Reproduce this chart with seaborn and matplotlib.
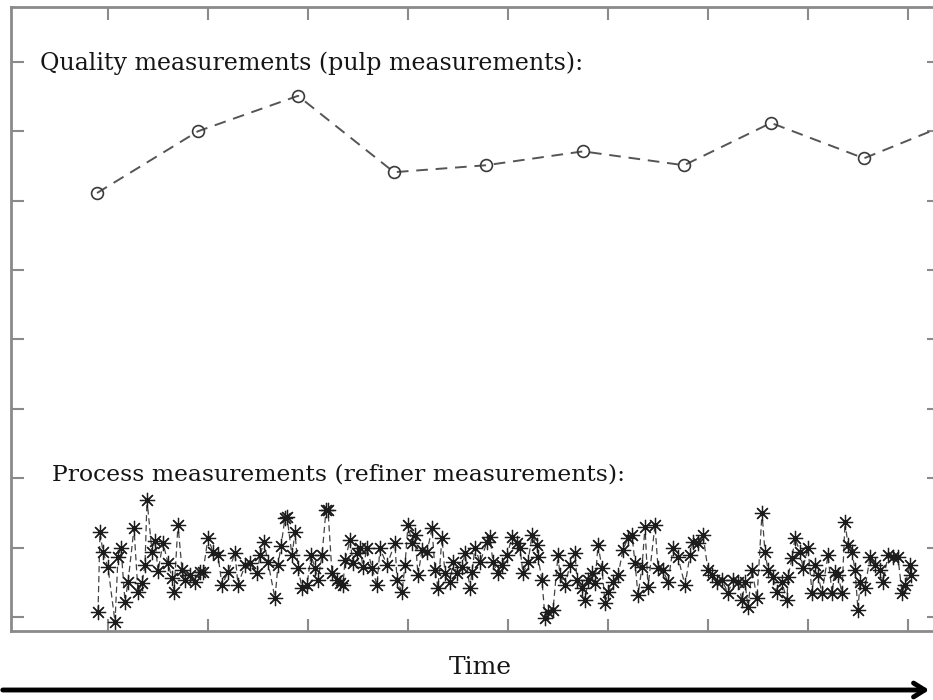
import numpy as np
import pandas as pd
import matplotlib
matplotlib.use("Agg")
import matplotlib.pyplot as plt
import seaborn as sns

# Quality (pulp) measurements: sparse lab samples
quality_time = [89, 190, 290, 386, 478, 575, 676, 763, 856, 950]
quality_value = [6.11, 7.00, 7.51, 6.41, 6.51, 6.71, 6.51, 7.12, 6.61, 7.16]

# Process (refiner) measurements: dense online samples
process_time = [
    90, 92, 95, 100, 107, 110, 113, 117, 120, 126, 130, 134, 137, 139, 144, 147,
    150, 155, 160, 164, 166, 170, 174, 177, 182, 187, 192, 195, 200, 205, 210, 214,
    220, 227, 230, 237, 242, 249, 252, 256, 260, 267, 270, 273, 277, 279, 284, 287,
    290, 294, 299, 303, 307, 310, 314, 318, 320, 324, 329, 332, 335, 337, 342, 345,
    349, 352, 355,
    359, 364, 369, 372, 379, 387, 389, 394, 397, 400, 404, 407, 410, 414, 419, 424,
    427, 430, 434, 437, 442, 445, 449, 454, 457, 462, 464, 467, 472, 479, 482, 485,
    490, 494,
    499, 504, 509, 512, 515, 520, 524, 529, 530, 534, 537, 540, 545, 550, 552, 557,
    562, 567, 569, 574, 577, 580, 584, 587, 590, 594, 597, 600, 605, 610, 615, 620,
    624, 627, 630, 634,
    637, 640, 647, 650, 655, 660, 665, 670, 677, 682, 685, 690, 695, 700, 704, 709,
    714, 720, 725, 730, 734, 737, 740, 744, 749, 754, 757, 760, 765, 769, 774,
    779, 780, 784, 787, 792, 795, 800, 804, 807, 810, 814, 820, 824, 827, 830, 834,
    837, 840, 844, 847, 850, 852, 857, 862, 867, 872, 875, 880, 885, 890, 894, 897,
    902, 903,
]
process_value = [
    0.07, 1.22, 0.94, 0.72, -0.07, 0.86, 1.00, 0.22, 0.50, 1.28, 0.36, 0.49, 0.75, 1.69, 0.94, 1.10,
    0.66, 1.07, 0.78, 0.56, 0.36, 1.33, 0.68, 0.53, 0.60, 0.50, 0.65, 0.65, 1.14, 0.94, 0.89, 0.46,
    0.65, 0.92, 0.46, 0.75, 0.78, 0.63, 0.89, 1.08, 0.79, 0.27, 0.75, 1.02, 1.43, 1.44, 0.89, 1.22,
    0.71, 0.42, 0.46, 0.89, 0.71, 0.53, 0.89, 1.54, 1.54, 0.63, 0.53, 0.49, 0.46, 0.82, 1.11, 0.78,
    0.92, 1.00, 0.72,
    0.99, 0.71, 0.46, 0.99, 0.75, 1.07, 0.53, 0.36, 0.75, 1.33, 1.07, 1.18, 0.60, 0.97, 0.94, 1.28,
    0.68, 0.42, 1.14, 0.63, 0.50, 0.79, 0.63, 0.72, 0.92, 0.42, 0.65, 1.00, 0.79, 1.08, 1.15, 0.79,
    0.63, 0.75,
    0.89, 1.15, 1.07, 0.99, 0.63, 0.79, 1.18, 1.04, 0.86, 0.53, -0.01, 0.07, 0.10, 0.89, 0.60, 0.46,
    0.75, 0.92, 0.53, 0.42, 0.24, 0.53, 0.63, 0.49, 1.04, 0.71, 0.20, 0.36, 0.50, 0.60, 0.97, 1.14,
    1.18, 0.78, 0.32, 0.72,
    1.30, 0.43, 1.33, 0.71, 0.68, 0.50, 0.99, 0.86, 0.46, 0.89, 1.08, 1.07, 1.18, 0.68, 0.60, 0.50,
    0.53, 0.35, 0.53, 0.50, 0.24, 0.50, 0.14, 0.68, 0.27, 1.50, 0.94, 0.68, 0.58, 0.36, 0.50,
    0.24, 0.58, 0.85, 1.14, 0.94, 0.71, 1.00, 0.35, 0.75, 0.60, 0.35, 0.89, 0.35, 0.65, 0.60, 0.35,
    1.37, 1.04, 0.94, 0.68, 0.10, 0.50, 0.42, 0.86, 0.75, 0.68, 0.50, 0.89, 0.86, 0.86, 0.35, 0.46,
    0.75, 0.60,
]

x_ticks = [100, 200, 300, 400, 500, 600, 700, 800, 900]
y_ticks = [0, 1, 2, 3, 4, 5, 6, 7, 8]

quality_df = pd.DataFrame({"time": quality_time, "value": quality_value})
process_df = pd.DataFrame({"time": process_time, "value": process_value})

sns.set_theme(style="white")
plt.rcParams["font.family"] = ["DejaVu Serif"]

W, H = 933, 700
fig = plt.figure(figsize=(W / 100, H / 100), dpi=100)
ax = fig.add_axes([11 / W, (H - 631) / H, (939 - 11) / W, (631 - 7) / H])

frame_gray = "#8a8a8a"

sns.lineplot(
    data=quality_df, x="time", y="value", ax=ax, estimator=None, sort=False,
    color="#555555", linewidth=1.4, linestyle=(0, (6, 4)),
    marker="o", markersize=8.5, markerfacecolor="none",
    markeredgecolor="#3a3a3a", markeredgewidth=1.2, clip_on=True,
)

sns.lineplot(
    data=process_df, x="time", y="value", ax=ax, estimator=None, sort=False,
    color="#444444", linewidth=0.9, linestyle=(0, (5, 3)),
    marker=(8, 2, 0), markersize=11, markeredgecolor="#1c1c1c",
    markeredgewidth=0.9, clip_on=True,
)

ax.set_xlim(3, 931)
ax.set_ylim(-0.2, 8.79)
ax.set_xticks(x_ticks)
ax.set_yticks(y_ticks)
ax.set_xticklabels([])
ax.set_yticklabels([])
ax.set_xlabel("")
ax.set_ylabel("")
ax.tick_params(direction="in", length=9, width=1.5, color=frame_gray,
               top=True, right=True, bottom=True, left=True)
for spine in ax.spines.values():
    spine.set_color(frame_gray)
    spine.set_linewidth(2)

text_color = "#151515"
fig.text(40 / W, (H - 70) / H, "Quality measurements (pulp measurements):",
         fontsize=17.1, color=text_color, ha="left", va="baseline")
fig.text(52 / W, (H - 481) / H, "Process measurements (refiner measurements):",
         fontsize=16.9, color=text_color, ha="left", va="baseline")
fig.text(480 / W, (H - 674) / H, "Time",
         fontsize=18, color=text_color, ha="center", va="baseline")

# Time arrow along the bottom
fig.add_artist(matplotlib.patches.FancyArrowPatch(
    (0 / W, (H - 690) / H), (932 / W, (H - 690) / H),
    transform=fig.transFigure, arrowstyle="->,head_length=8,head_width=5",
    color="black", linewidth=3.5, mutation_scale=1,
))

fig.savefig("out.png", dpi=100)
